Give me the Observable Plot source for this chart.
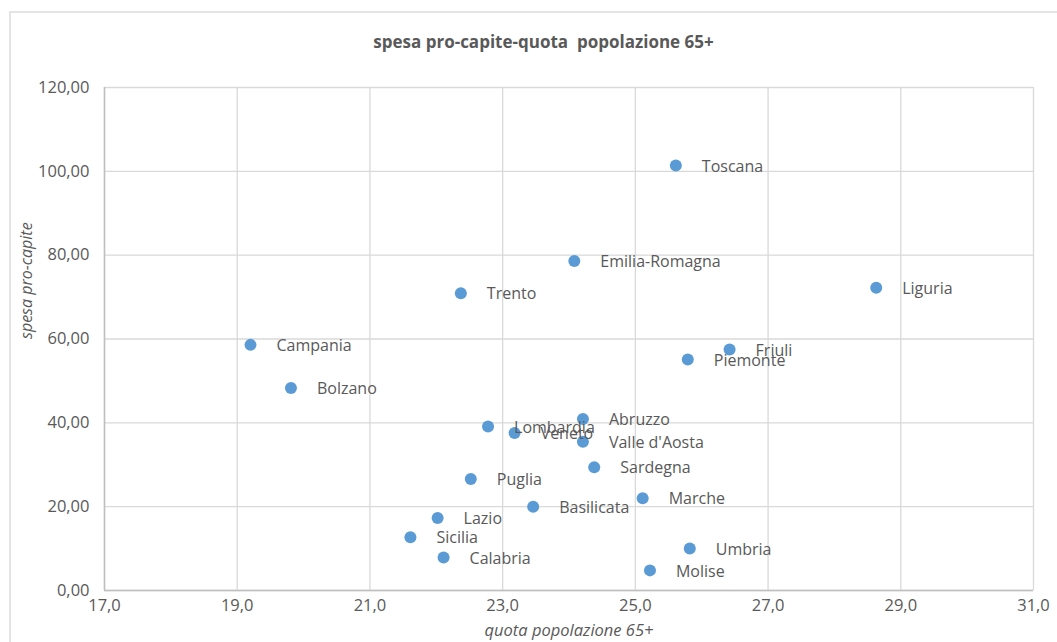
<!DOCTYPE html>
<html>
<head>
<meta charset="utf-8">
<script src="https://cdn.jsdelivr.net/npm/d3@7"></script>
<script src="https://cdn.jsdelivr.net/npm/@observablehq/plot@0.6"></script>
<style>
  html, body { margin: 0; padding: 0; background: #fff; overflow: hidden; }
  #wrap { position: relative; width: 1057px; height: 642px; overflow: hidden; font-family: "Open Sans", sans-serif; }
  #frame { position: absolute; left: 9px; top: 11px; width: 1100px; height: 700px; border: 2px solid #e4e4e4; box-sizing: border-box; }
  #title { position: relative; height: 70px; box-sizing: border-box; padding-top: 31px; padding-left: 30px; text-align: center; font-size: 17px; line-height: 22px; font-weight: 700; color: #595959; }
  #chart { position: relative; }
</style>
</head>
<body>
<div id="wrap">
  <div id="frame"></div>
  <div id="title">spesa pro-capite-quota&nbsp; popolazione 65+</div>
  <div id="chart"></div>
</div>
<script>
const regions = ["Toscana","Emilia-Romagna","Trento","Liguria","Campania","Friuli","Piemonte","Bolzano","Abruzzo","Lombardia","Veneto","Valle d'Aosta","Sardegna","Puglia","Marche","Basilicata","Lazio","Sicilia","Umbria","Calabria","Molise"];
const quota65 = [25.61, 24.08, 22.37, 28.63, 19.20, 26.42, 25.79, 19.81, 24.21, 22.78, 23.18, 24.21, 24.38, 22.52, 25.11, 23.46, 22.02, 21.61, 25.82, 22.11, 25.22];
const spesa = [101.4, 78.6, 70.9, 72.2, 58.6, 57.5, 55.1, 48.3, 40.9, 39.1, 37.6, 35.5, 29.4, 26.6, 22.0, 20.0, 17.3, 12.7, 10.0, 7.9, 4.8];
const xTicks = [17, 19, 21, 23, 25, 27, 29, 31];
const yTicks = [0, 20, 40, 60, 80, 100, 120];
const xTitle = "quota popolazione 65+";
const yTitle = "spesa pro-capite";

const data = regions.map((r, i) => ({region: r, x: quota65[i], y: spesa[i]}));
const fmtX = d => d.toFixed(1).replace(".", ",");
const fmtY = d => d.toFixed(2).replace(".", ",");
const grey = "#595959";

const chart = Plot.plot({
  width: 1057,
  height: 572,
  marginTop: 17,
  marginBottom: 52,
  marginLeft: 104,
  marginRight: 24,
  style: {fontFamily: "'Open Sans', sans-serif", fontSize: "16px", color: grey, background: "transparent", overflow: "visible"},
  x: {domain: [17, 31], ticks: xTicks, tickFormat: fmtX, label: null},
  y: {domain: [0, 120], ticks: yTicks, tickFormat: fmtY, label: null},
  marks: [
    Plot.gridX(xTicks, {stroke: "#d9d9d9", strokeOpacity: 1, strokeWidth: 1.3}),
    Plot.gridY(yTicks, {stroke: "#d9d9d9", strokeOpacity: 1, strokeWidth: 1.3}),
    Plot.ruleX([17], {stroke: "#bfbfbf", strokeWidth: 1.5}),
    Plot.ruleY([0], {stroke: "#bfbfbf", strokeWidth: 1.5}),
    Plot.axisX(xTicks, {tickSize: 0, tickPadding: 9, tickFormat: fmtX, fill: grey, fontSize: 16.5, label: null}),
    Plot.axisY(yTicks, {tickSize: 0, tickPadding: 15, tickFormat: fmtY, fill: grey, fontSize: 16.5, label: null}),
    Plot.dot(data, {x: "x", y: "y", r: 6, fill: "#5b9bd5", stroke: "none"}),
    Plot.text(data, {x: "x", y: "y", text: "region", dx: 26, dy: 1, textAnchor: "start", fill: grey, fontSize: 16}),
    Plot.text([xTitle], {frameAnchor: "bottom", dy: 45, fill: grey, fontSize: 16.5, fontStyle: "italic"}),
    Plot.text([yTitle], {frameAnchor: "left", dx: -78, rotate: -90, fill: grey, fontSize: 16, fontStyle: "italic"})
  ]
});
document.getElementById("chart").appendChild(chart);
</script>
</body>
</html>
